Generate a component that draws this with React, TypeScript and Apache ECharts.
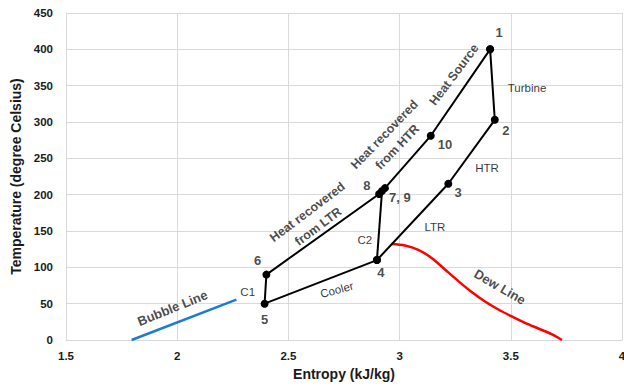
import React, { useEffect, useRef } from "react";
import * as echarts from "echarts";

// Cycle state points: [entropy kJ/kg, temperature °C]
const cycleNames = ["1", "2", "3", "4", "5", "6", "8", "9", "10", "1"];
const cycleS = [3.407, 3.428, 3.219, 2.898, 2.393, 2.401, 2.908, 2.934, 3.14, 3.407];
const cycleT = [400, 303, 215, 110, 50, 90, 201, 209, 281, 400];

const c2S = [2.898, 2.921];
const c2T = [110, 205];

const bubbleS = [1.795, 2.266];
const bubbleT = [0, 55.5];

const dewS = [2.964, 3.024, 3.084, 3.144, 3.204, 3.264, 3.324, 3.384, 3.444, 3.504, 3.564, 3.624, 3.684, 3.73];
const dewT = [132, 130, 124, 113, 97, 81, 66, 53, 42, 32.5, 23.6, 15.8, 8, 0];

// Text annotations: [label, entropy, temperature]
const annText = [
  "Bubble Line", "Dew Line", "Cooler", "C1", "C2", "LTR", "HTR", "Turbine",
  "Heat Source", "Heat recovered\nfrom HTR", "Heat recovered\nfrom LTR",
  "1", "2", "10", "3", "8", "7, 9", "4", "6", "5",
];
const annS = [
  1.979, 3.451, 2.718, 2.317, 2.844, 3.159, 3.393, 3.573,
  3.245, 2.961, 2.61,
  3.447, 3.478, 3.204, 3.263, 2.853, 3.001, 2.916, 2.361, 2.393,
];
const annT = [
  44, 73, 69, 66, 137, 156, 237, 347,
  365, 274, 166,
  423, 288, 269, 203, 212, 196, 93, 109, 28,
];
const annRotate = [22, -30, 15, 0, 0, 0, 0, 0, 53, 46, 37, 0, 0, 0, 0, 0, 0, 0, 0, 0];
const annSize = [13, 13, 11.5, 11.5, 11.5, 11.5, 11.5, 11.5, 12.5, 12.5, 12.5, 13, 13, 13, 13, 13, 13, 13, 13, 13];
const annBold = [true, true, false, false, false, false, false, false, true, true, true, true, true, true, true, true, true, true, true, true];

const FONT = "'Liberation Sans', Arial, sans-serif";
const TXT = "#1a1a1a";

export default function App() {
  const ref = useRef<HTMLDivElement>(null);
  useEffect(() => {
    if (!ref.current) return;
    document.body.style.margin = "0";
    const chart = echarts.init(ref.current, undefined, { renderer: "svg" });
    const zip = (a: number[], b: number[]) => a.map((v, i) => [v, b[i]]);
    chart.setOption({
      animation: false,
      backgroundColor: "#ffffff",
      grid: { left: 66, right: 2, top: 13, bottom: 47, containLabel: false, outerBoundsMode: "none" },
      xAxis: {
        type: "value",
        min: 1.5,
        max: 4,
        interval: 0.5,
        name: "Entropy (kJ/kg)",
        nameLocation: "middle",
        nameGap: 26,
        nameTextStyle: { fontFamily: FONT, fontWeight: "bold", fontSize: 14, color: TXT },
        axisLine: { lineStyle: { color: "#d9d9d9", width: 1 } },
        axisTick: { show: false },
        axisLabel: { fontFamily: FONT, fontWeight: "bold", fontSize: 11.5, color: TXT, margin: 10 },
        splitLine: { show: true, lineStyle: { color: "#d9d9d9", width: 1 } },
      },
      yAxis: {
        type: "value",
        min: 0,
        max: 450,
        interval: 50,
        name: "Temperature (degree Celsius)",
        nameLocation: "middle",
        nameGap: 41,
        nameTextStyle: { fontFamily: FONT, fontWeight: "bold", fontSize: 14, color: TXT },
        axisLine: { show: true, lineStyle: { color: "#d9d9d9", width: 1 } },
        axisTick: { show: false },
        axisLabel: { fontFamily: FONT, fontWeight: "bold", fontSize: 11.5, color: TXT, margin: 13 },
        splitLine: { show: true, lineStyle: { color: "#d9d9d9", width: 1 } },
      },
      series: [
        {
          type: "line",
          data: zip(bubbleS, bubbleT),
          symbol: "none",
          lineStyle: { color: "#1f7bd0", width: 2.5 },
        },
        {
          type: "line",
          data: zip(dewS, dewT),
          symbol: "none",
          smooth: 0.3,
          lineStyle: { color: "#ff0000", width: 2.5 },
        },
        {
          type: "line",
          data: zip(c2S, c2T),
          symbol: "circle",
          symbolSize: 8,
          itemStyle: { color: "#000" },
          lineStyle: { color: "#000", width: 2 },
        },
        {
          type: "line",
          data: cycleS.map((s, i) => ({ name: cycleNames[i], value: [s, cycleT[i]] })),
          symbol: "circle",
          symbolSize: 8,
          itemStyle: { color: "#000" },
          lineStyle: { color: "#000", width: 2 },
        },
        {
          type: "scatter",
          symbolSize: 0,
          silent: true,
          z: 10,
          data: annText.map((t, i) => ({
            name: t,
            value: [annS[i], annT[i]],
            label: {
              show: true,
              position: "inside",
              formatter: t,
              rotate: annRotate[i],
              fontFamily: FONT,
              fontSize: annSize[i],
              fontWeight: annBold[i] ? "bold" : "normal",
              color: annBold[i] ? TXT : "#000",
              align: "center",
              verticalAlign: "middle",
              lineHeight: 18,
            },
          })),
        },
      ],
    });
    return () => chart.dispose();
  }, []);
  return <div ref={ref} style={{ width: 624, height: 387 }} />;
}
